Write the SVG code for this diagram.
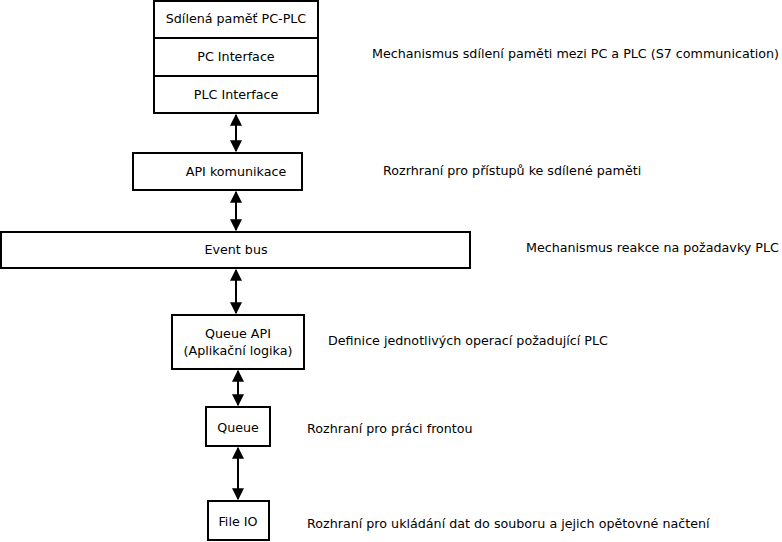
<svg xmlns="http://www.w3.org/2000/svg" width="782" height="542" viewBox="0 0 782 542">
<style>
  .box { fill: #ffffff; stroke: #000000; stroke-width: 2; }
  .t { font-family: "DejaVu Sans", sans-serif; font-size: 12.7px; fill: #000000; }
  .c { text-anchor: middle; }
  .conn { stroke: #000000; stroke-width: 2; fill: none; marker-start: url(#ah); marker-end: url(#ah); }
</style>
<defs>
  <marker id="ah" viewBox="0 0 10 10" refX="9" refY="5" markerWidth="6.5" markerHeight="6" orient="auto-start-reverse" markerUnits="strokeWidth">
    <path d="M0,0 L10,5 L0,10 Z" fill="#000000"/>
  </marker>
</defs>
<rect width="782" height="542" fill="#ffffff"/>
<g id="connectors">
  <line class="conn" x1="236" y1="115" x2="236" y2="151"/>
  <line class="conn" x1="236" y1="192" x2="236" y2="230"/>
  <line class="conn" x1="236" y1="270" x2="236" y2="313"/>
  <line class="conn" x1="238" y1="371" x2="238" y2="405"/>
  <line class="conn" x1="238" y1="448" x2="238" y2="499"/>
</g>
<g id="shared-memory">
  <rect class="box" x="154" y="1" width="164" height="112"/>
  <line x1="154" y1="38" x2="318" y2="38" stroke="#000" stroke-width="2"/>
  <line x1="154" y1="76" x2="318" y2="76" stroke="#000" stroke-width="2"/>
  <text class="t c" x="236" y="23">Sdílená paměť PC-PLC</text>
  <text class="t c" x="236" y="61">PC Interface</text>
  <text class="t c" x="236" y="99">PLC Interface</text>
</g>
<g id="api">
  <rect class="box" x="133" y="153" width="169" height="37"/>
  <text class="t c" x="236" y="176">API komunikace</text>
</g>
<g id="eventbus">
  <rect class="box" x="1" y="232" width="469" height="36"/>
  <text class="t c" x="236" y="254">Event bus</text>
</g>
<g id="queueapi">
  <rect class="box" x="172" y="315" width="132" height="54"/>
  <text class="t c" x="238" y="338">Queue API</text>
  <text class="t c" x="238" y="355">(Aplikační logika)</text>
</g>
<g id="queue">
  <rect class="box" x="206" y="407" width="64" height="39"/>
  <text class="t c" x="238" y="432">Queue</text>
</g>
<g id="fileio">
  <rect class="box" x="208" y="501" width="61" height="39"/>
  <text class="t c" x="238" y="526">File IO</text>
</g>
<g id="labels">
  <text class="t" x="372" y="58">Mechanismus sdílení paměti mezi PC a PLC (S7 communication)</text>
  <text class="t" x="383" y="175">Rozrhraní pro přístupů ke sdílené paměti</text>
  <text class="t" x="526" y="252">Mechanismus reakce na požadavky PLC</text>
  <text class="t" x="328" y="345">Definice jednotlivých operací požadující PLC</text>
  <text class="t" x="307" y="433">Rozhraní pro práci frontou</text>
  <text class="t" x="307" y="528">Rozhraní pro ukládání dat do souboru a jejich opětovné načtení</text>
</g>
</svg>
